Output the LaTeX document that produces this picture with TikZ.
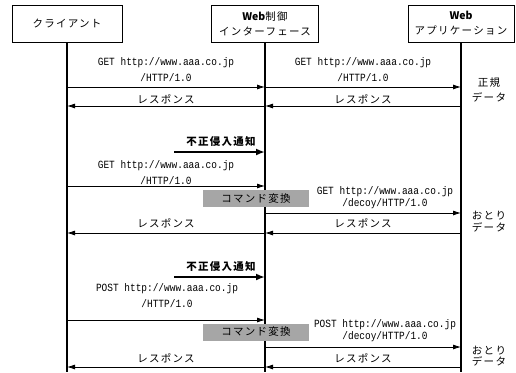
\documentclass[tikz,border=0pt]{standalone}
\usepackage{fontspec}
\setmainfont{Noto Sans CJK JP}[LetterSpace=12]
\newfontfamily\plainjp{Noto Sans CJK JP}
\setmonofont{Liberation Mono}[FakeStretch=0.86]
\usetikzlibrary{arrows.meta}
\tikzset{
  box/.style={draw, line width=0.9pt, minimum height=37pt, align=center, inner sep=0pt,
    font=\fontsize{10.5}{15}\selectfont},
  life/.style={line width=1.1pt},
  msg/.style={line width=0.8pt, -{Latex[length=8pt,width=5pt]}},
  alert/.style={line width=2.2pt, -{Latex[length=9pt,width=7pt]}},
  url/.style={align=center, inner sep=0pt, font=\ttfamily\fontsize{11}{16}\selectfont},
  urlb/.style={align=center, inner sep=0pt, font=\ttfamily\fontsize{11}{12}\selectfont},
  jp/.style={align=center, inner sep=0pt, font=\fontsize{10.5}{15}\selectfont},
  jps/.style={align=center, inner sep=0pt, font=\fontsize{10.5}{11.5}\selectfont},
  jpb/.style={inner sep=0pt, font=\bfseries\fontsize{10.5}{12}\selectfont},
  conv/.style={fill=black!35, minimum width=106pt, minimum height=17pt, inner sep=0pt,
    font=\fontsize{10.5}{12}\selectfont}
}
\begin{document}
\begin{tikzpicture}[x=1pt,y=-1pt]
\useasboundingbox (0,0) rectangle (516,372);
% participants
\node[box, minimum width=110pt] (cl) at (67,23.5) {クライアント};
\node[box, minimum width=107pt] (wc) at (265,23.5) {{\plainjp\bfseries Web}制御\\インターフェース};
\node[box, minimum width=106pt] (wa) at (461,23.5) {{\plainjp\bfseries Web}\\アプリケーション};
% lifelines
\coordinate (clE) at (67,372);
\coordinate (wcE) at (265,372);
\coordinate (waE) at (461,372);
\draw[life] (cl.south) -- (clE);
\draw[life] (wc.south) -- (wcE);
\draw[life] (wa.south) -- (waE);
% message points
\foreach \n/\y in {1/87,2/106,3/152,4/186,5/213,6/233,7/277,8/320,9/347,10/367}{
  \coordinate (c\n) at (67,\y);
  \coordinate (w\n) at (265,\y);
  \coordinate (a\n) at (461,\y);
}
\coordinate (s3) at (174,152);
\coordinate (s7) at (174,277);
% ---- block 1 ----
\draw[msg] (c1) -- (w1);
\draw[msg] (w1) -- (a1);
\draw[msg] (a2) -- (w2);
\draw[msg] (w2) -- (c2);
\node[url] (l1) at (166,70) {GET http://www.aaa.co.jp\\/HTTP/1.0};
\node[url] (l2) at (363,70) {GET http://www.aaa.co.jp\\/HTTP/1.0};
\node[jp] (l3) at (166,99) {レスポンス};
\node[jp] (l4) at (363,99) {レスポンス};
\node[jp] (d1) at (489,89.5) {正規\\データ};
% ---- block 2 ----
\draw[alert] (s3) -- (w3);
\node[jpb] (n1) at (221,142) {不正侵入通知};
\draw[msg] (c4) -- (w4);
\node[url] (l5) at (166,172.5) {GET http://www.aaa.co.jp\\/HTTP/1.0};
\node[conv] (k1) at (256,198.5) {コマンド変換};
\draw[msg] (w5) -- (a5);
\node[urlb] (l6) at (385,197.5) {GET http://www.aaa.co.jp\\/decoy/HTTP/1.0};
\draw[msg] (a6) -- (w6);
\draw[msg] (w6) -- (c6);
\node[jp] (l7) at (166,223) {レスポンス};
\node[jp] (l8) at (363,223) {レスポンス};
\node[jps] (d2) at (489,221.5) {おとり\\データ};
% ---- block 3 ----
\draw[alert] (s7) -- (w7);
\node[jpb] (n2) at (221,267) {不正侵入通知};
\draw[msg] (c8) -- (w8);
\node[url] (l9) at (167,295.5) {POST http://www.aaa.co.jp\\/HTTP/1.0};
\node[conv] (k2) at (256,332) {コマンド変換};
\draw[msg] (w9) -- (a9);
\node[urlb] (l10) at (385,331) {POST http://www.aaa.co.jp\\/decoy/HTTP/1.0};
\draw[msg] (a10) -- (w10);
\draw[msg] (w10) -- (c10);
\node[jp] (l11) at (166,358) {レスポンス};
\node[jp] (l12) at (363,358) {レスポンス};
\node[jps] (d3) at (489,356) {おとり\\データ};
\end{tikzpicture}
\end{document}
